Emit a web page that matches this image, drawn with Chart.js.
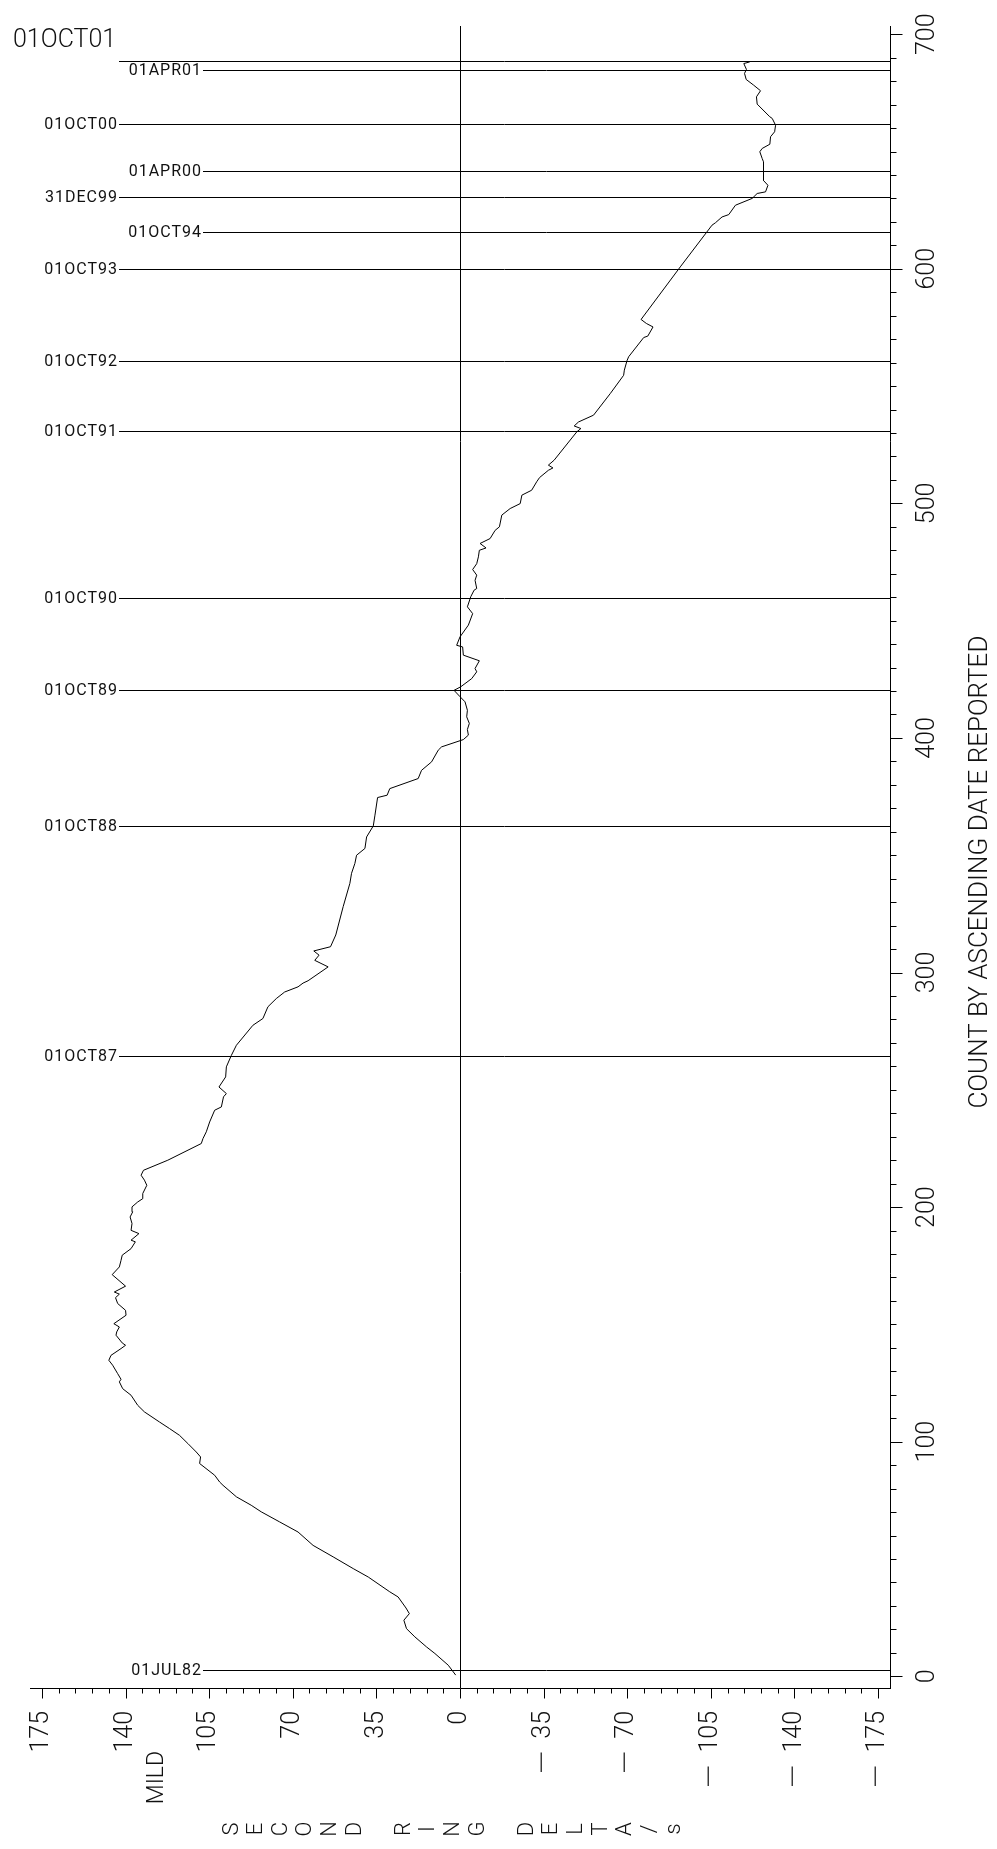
<!DOCTYPE html>
<html>
<head>
<meta charset="utf-8">
<title>Second ring delta</title>
<script src="https://cdn.jsdelivr.net/npm/chart.js"></script>
<style>
  html, body { margin: 0; padding: 0; background: #fff; }
  #contenedor { width: 997px; height: 1849px; }
</style>
</head>
<body>
<div id="contenedor"><canvas id="grafico" width="997" height="1849"></canvas></div>
<script>
// Conteo por fecha (eje vertical) y delta del segundo anillo (eje horizontal).
const conteo = [
  0.5, 4.7, 9.7, 12.5, 16.8, 20.3, 23.9, 26.7, 29.1, 33.8, 36.0, 42.3, 45.9, 50.9, 55.8,
  61.5, 65.8, 70.1, 72.9, 76.5, 81.4, 82.8, 85.7, 90.7, 93.5, 95.6, 99.2, 102.7, 105.6, 108.4,
  112.7, 115.5, 119.8, 122.6, 125.5, 126.6, 129.0, 132.6, 134.7, 136.8, 139.7, 141.1, 142.1, 145.4, 146.8,
  148.9, 150.3, 153.9, 156.0, 158.9, 161.4, 162.9, 163.8, 166.3, 171.2, 174.5, 177.3, 179.5, 182.3, 185.2,
  185.9, 188.7, 190.1, 193.0, 195.8, 198.0, 200.1, 202.2, 203.6, 205.8, 209.3, 211.5, 213.6, 215.7, 220.0,
  227.1, 229.2, 232.1, 236.3, 241.3, 242.7, 247.0, 248.4, 251.2, 255.5, 259.8, 264.7, 269.0, 277.5, 280.4,
  285.4, 288.9, 291.7, 293.9, 295.5, 296.5, 302.4, 305.2, 307.4, 309.2, 311.0, 316.0, 328.1, 338.0, 342.3,
  346.5, 350.0, 352.9, 357.8, 362.5, 367.1, 374.6, 375.6, 378.4, 382.7, 386.2, 389.8, 394.8, 396.2, 399.3,
  401.2, 403.6, 406.2, 409.0, 411.8, 415.4, 417.6, 420.3, 421.8, 425.3, 428.2, 429.6, 432.9, 435.3, 438.8,
  439.5, 443.1, 448.1, 453.0, 455.9, 460.2, 463.0, 463.7, 467.2, 469.4, 471.8, 474.3, 477.2, 480.0, 481.0,
  482.9, 485.0, 488.5, 490.0, 495.0, 497.8, 499.9, 503.5, 505.6, 509.2, 511.0, 514.1, 515.1, 516.3, 518.4,
  530.5, 531.9, 533.0, 534.7, 537.6, 546.8, 554.6, 556.8, 560.8, 562.5, 570.7, 571.3, 575.2, 576.7, 578.4,
  600.8, 618.6, 619.6, 622.1, 623.1, 627.1, 630.0, 632.1, 632.8, 635.6, 637.8, 641.3, 645.6, 647.0, 649.9,
  651.3, 653.1, 656.3, 658.4, 661.2, 664.1, 664.8, 670.2, 673.3, 675.9, 678.3, 680.7, 683.3, 685.0, 687.5,
  688.2
];
const delta = [
  1.8, 4.9, 10.5, 14.0, 18.9, 22.4, 23.5, 21.2, 22.6, 25.9, 29.4, 38.4, 44.7, 53.1, 61.5,
  67.8, 75.5, 83.2, 87.4, 93.6, 99.2, 100.6, 102.7, 109.0, 108.6, 110.4, 113.9, 117.4, 121.6, 125.8,
  132.1, 134.9, 137.7, 141.2, 142.6, 141.9, 143.3, 145.4, 147.0, 146.1, 141.9, 140.0, 141.4, 144.0, 143.7,
  142.6, 144.9, 139.8, 140.0, 143.3, 144.2, 142.6, 144.7, 140.0, 145.6, 142.6, 141.9, 141.4, 137.7, 135.9,
  137.7, 134.4, 137.7, 137.3, 138.1, 137.0, 137.3, 134.9, 132.8, 132.8, 131.1, 132.1, 133.5, 132.5, 122.3,
  108.3, 107.6, 106.2, 104.8, 102.7, 99.9, 99.0, 97.8, 100.9, 98.1, 97.8, 95.7, 93.6, 86.7, 82.5,
  80.4, 76.9, 73.4, 67.8, 65.7, 63.6, 55.2, 60.8, 59.0, 61.2, 54.2, 52.0, 48.9, 46.1, 45.4,
  44.0, 43.3, 39.8, 39.1, 36.3, 35.6, 34.5, 30.5, 29.4, 17.5, 16.1, 11.9, 9.1, 7.7, -1.4,
  -3.5, -3.1, -3.9, -2.8, -3.1, -2.1, 0.0, 2.5, -0.3, -4.9, -7.0, -6.3, -8.1, -1.4, -1.1,
  1.4, 0.0, -3.5, -5.3, -3.1, -4.5, -5.9, -7.0, -6.3, -7.0, -5.3, -7.0, -7.7, -8.1, -10.9,
  -8.4, -12.6, -14.7, -16.5, -17.5, -21.0, -25.2, -25.9, -30.0, -32.1, -33.3, -37.0, -38.9, -37.0, -39.4,
  -48.9, -50.6, -47.8, -49.6, -55.9, -62.9, -68.5, -68.8, -69.9, -70.6, -76.9, -78.6, -80.8, -78.0, -75.8,
  -92.2, -105.5, -106.9, -109.7, -112.5, -115.3, -122.3, -124.4, -127.9, -128.9, -126.9, -126.9, -127.2, -126.5, -125.5,
  -126.5, -129.7, -130.0, -131.7, -132.1, -130.7, -129.7, -124.4, -124.1, -125.8, -122.9, -119.8, -119.1, -119.9, -118.8,
  -121.3
];

// Fechas marcadas con lineas horizontales y su conteo.
const fechas = ['01OCT01', '01APR01', '01OCT00', '01APR00', '31DEC99', '01OCT94', '01OCT93',
  '01OCT92', '01OCT91', '01OCT90', '01OCT89', '01OCT88', '01OCT87', '01JUL82'];
const fechaConteo = [688.4, 684.6, 661.7, 641.6, 630.6, 615.7, 599.8,
  560.7, 530.8, 459.8, 420.5, 362.4, 264.6, 2.7];

// Etiquetas de los ejes.
const ticksDelta = [175, 140, 105, 70, 35, 0, -35, -70, -105, -140, -175];
const ticksConteo = [0, 100, 200, 300, 400, 500, 600, 700];
const tituloConteo = 'COUNT BY ASCENDING DATE REPORTED';
const tituloDelta = 'SECOND RING DELTA/s';
const etiquetaMild = 'MILD';
const fechaFinal = '01OCT01';

// Las fechas que van corridas hacia la derecha.
const fechasCortas = ['01APR01', '01APR00', '01OCT94', '01JUL82'];

const puntos = conteo.map((c, i) => ({ x: delta[i], y: c }));

function linea(ctx, x1, y1, x2, y2) {
  ctx.beginPath();
  ctx.moveTo(x1, y1);
  ctx.lineTo(x2, y2);
  ctx.stroke();
}

function textoGirado(ctx, texto, x, y, alinear) {
  ctx.save();
  ctx.translate(x, y);
  ctx.rotate(-Math.PI / 2);
  ctx.textAlign = alinear;
  ctx.textBaseline = 'middle';
  ctx.fillText(texto, 0, 0);
  ctx.restore();
}

// etiqueta del eje de abajo; el signo menos va estirado como en el original
function etiquetaDelta(ctx, v, x, y) {
  const num = String(Math.abs(v));
  ctx.save();
  ctx.translate(x, y);
  ctx.rotate(-Math.PI / 2);
  ctx.textAlign = 'right';
  ctx.textBaseline = 'middle';
  ctx.fillText(num, 0, 0);
  if (v < 0) {
    const w = ctx.measureText(num).width;
    ctx.translate(-w - 10, 0);
    ctx.scale(1.9, 1);
    ctx.fillText('\u2212', 0, 0);
  }
  ctx.restore();
}

const extras = {
  id: 'extras',
  beforeDatasetsDraw(chart) {
    const { ctx, chartArea, scales: { y } } = chart;
    ctx.save();
    ctx.strokeStyle = '#000';
    ctx.lineWidth = 1;
    ctx.fillStyle = '#111';
    ctx.font = '16px Roboto, "Liberation Sans", sans-serif';
    ctx.letterSpacing = '1px';
    ctx.textAlign = 'right';
    ctx.textBaseline = 'middle';
    fechas.forEach((f, i) => {
      const py = Math.round(y.getPixelForValue(fechaConteo[i])) + 0.5;
      const xFin = fechasCortas.includes(f) ? 201 : 117;
      if (f !== fechaFinal) {
        ctx.fillText(f, xFin + 1, py);
      }
      linea(ctx, xFin + 2, py, chartArea.right, py);
    });
    ctx.restore();
  },
  afterDraw(chart) {
    const { ctx, chartArea, scales: { x, y } } = chart;
    ctx.save();
    ctx.strokeStyle = '#000';
    ctx.lineWidth = 1;
    ctx.fillStyle = '#111';

    // marcas del eje horizontal: cada 7, largas cada 35
    const abajo = Math.round(chartArea.bottom) + 0.5;
    for (let v = -175; v <= 175; v += 7) {
      const px = Math.round(x.getPixelForValue(v)) + 0.5;
      linea(ctx, px, abajo, px, abajo + (v % 35 === 0 ? 10 : 5));
    }
    // marcas del eje vertical: cada 10, largas cada 100
    const derecha = Math.round(chartArea.right) + 0.5;
    for (let v = 0; v <= 700; v += 10) {
      const py = Math.round(y.getPixelForValue(v)) + 0.5;
      linea(ctx, derecha, py, derecha + (v % 100 === 0 ? 12 : 6), py);
    }

    ctx.font = '300 25px Roboto, "Liberation Sans", sans-serif';
    ticksDelta.forEach(v => {
      etiquetaDelta(ctx, v, x.getPixelForValue(v), chartArea.bottom + 23);
    });
    ticksConteo.forEach(v => {
      textoGirado(ctx, String(v), chartArea.right + 38, y.getPixelForValue(v), 'center');
    });

    ctx.font = '300 23px Roboto, "Liberation Sans", sans-serif';
    textoGirado(ctx, etiquetaMild, x.getPixelForValue(140) + 32, chartArea.bottom + 63, 'right');

    ctx.font = '300 26px Roboto, "Liberation Sans", sans-serif';
    textoGirado(ctx, tituloConteo, chartArea.right + 90, (chartArea.top + chartArea.bottom) / 2 + 15, 'center');

    // el titulo de abajo va letra por letra, cada una girada
    ctx.font = '300 22px Roboto, "Liberation Sans", sans-serif';
    [...tituloDelta].forEach((letra, i) => {
      textoGirado(ctx, letra, 232 + i * 24.6, chartArea.bottom + 141, 'center');
    });

    ctx.font = '300 25px Roboto, "Liberation Sans", sans-serif';
    ctx.textAlign = 'left';
    ctx.textBaseline = 'alphabetic';
    ctx.fillText(fechaFinal, 13, 46.5);
    ctx.restore();
  }
};

new Chart(document.getElementById('grafico'), {
  type: 'scatter',
  data: {
    datasets: [{
      data: puntos,
      showLine: true,
      borderColor: '#000',
      borderWidth: 1,
      pointRadius: 0,
      tension: 0,
      fill: false
    }]
  },
  options: {
    responsive: false,
    animation: false,
    layout: { padding: { left: 30, top: 26, right: 0, bottom: 0 } },
    plugins: { legend: { display: false }, tooltip: { enabled: false } },
    scales: {
      x: {
        type: 'linear',
        position: 'bottom',
        reverse: true,
        min: -180,
        max: 180,
        ticks: { display: false, stepSize: 35, includeBounds: false },
        grid: {
          drawTicks: false,
          lineWidth: 1,
          color: c => (c.tick && c.tick.value === 0 ? '#000' : 'rgba(0,0,0,0)')
        },
        border: { display: true, color: '#000', width: 1 },
        afterFit: s => { s.height = 161; }
      },
      y: {
        type: 'linear',
        position: 'right',
        min: -5,
        max: 703.5,
        ticks: { display: false },
        grid: { display: false },
        border: { display: true, color: '#000', width: 1 },
        afterFit: s => { s.width = 107; }
      }
    }
  },
  plugins: [extras]
});
</script>
</body>
</html>
